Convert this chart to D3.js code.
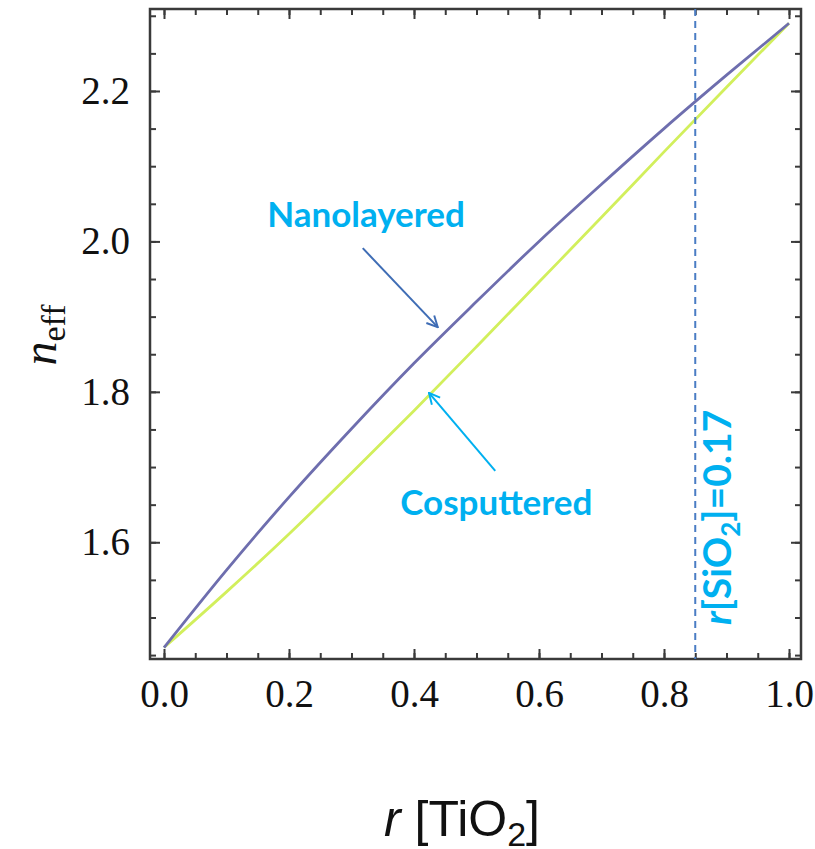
<!DOCTYPE html>
<html>
<head>
<meta charset="utf-8">
<script src="https://cdn.jsdelivr.net/npm/d3@7"></script>
<style>
  html, body { margin: 0; padding: 0; background: #fff; }
  svg { display: block; }
</style>
</head>
<body>
<svg id="chart" width="815" height="849"></svg>
<script>
// ---- data ----
const rTiO2 = [0.0, 0.1, 0.2, 0.3, 0.4, 0.5, 0.6, 0.7, 0.8, 0.9, 1.0];
const nanolayered = [1.460, 1.563, 1.660, 1.751, 1.838, 1.920, 2.000, 2.076, 2.150, 2.221, 2.290];
const cosputtered = [1.460, 1.534, 1.611, 1.692, 1.775, 1.860, 1.946, 2.032, 2.119, 2.205, 2.290];
const xMajorTicks = [0.0, 0.2, 0.4, 0.6, 0.8, 1.0];
const xMinorTicks = d3.range(0, 1.0001, 0.05);
const yMajorTicks = [1.6, 1.8, 2.0, 2.2];
const yMinorTicks = [1.45, 1.5, 1.55, 1.6, 1.65, 1.7, 1.75, 1.8, 1.85, 1.9, 1.95, 2.0, 2.05, 2.1, 2.15, 2.2, 2.25, 2.3];
const xDomain = [-0.0224, 1.0192];
const yDomain = [1.4448, 2.309];
const markerX = 0.85;          // r[SiO2] = 0.17 marker
const markerLabel = "0.17";

const svg = d3.select("#chart");
const margin = {left: 150, top: 9, right: 14, bottom: 190};
const W = 815, H = 849;
const iw = W - margin.left - margin.right;
const ih = H - margin.top - margin.bottom;

const x = d3.scaleLinear().domain(xDomain).range([0, iw]);
const y = d3.scaleLinear().domain(yDomain).range([ih, 0]);

const g = svg.append("g").attr("transform", `translate(${margin.left},${margin.top})`);

const frameColor = "#3a3a3a";
const fmt = d3.format(".1f");

svg.append("defs").append("clipPath").attr("id", "clip")
  .append("rect").attr("width", iw).attr("height", ih);

// ---- axes (ticks inward) ----
function styleAxis(sel) {
  sel.select(".domain").remove();
  sel.selectAll(".tick line").attr("stroke", frameColor).attr("stroke-width", 2);
  sel.selectAll(".tick text")
    .attr("fill", "#111")
    .style("font-family", "'Liberation Serif', 'Times New Roman', serif")
    .style("font-size", "39px");
}
g.append("g").attr("transform", `translate(0,${ih})`)
  .call(d3.axisBottom(x).tickValues(xMinorTicks).tickSize(-6).tickFormat(""))
  .call(styleAxis);
g.append("g").attr("transform", `translate(0,${ih})`)
  .call(d3.axisBottom(x).tickValues(xMajorTicks).tickSize(-10).tickPadding(20).tickFormat(fmt))
  .call(styleAxis);
g.append("g")
  .call(d3.axisTop(x).tickValues(xMinorTicks).tickSize(-6).tickFormat(""))
  .call(styleAxis);
g.append("g")
  .call(d3.axisTop(x).tickValues(xMajorTicks).tickSize(-10).tickFormat(""))
  .call(styleAxis);
g.append("g")
  .call(d3.axisLeft(y).tickValues(yMinorTicks).tickSize(-6).tickFormat(""))
  .call(styleAxis);
g.append("g")
  .call(d3.axisLeft(y).tickValues(yMajorTicks).tickSize(-10).tickPadding(20).tickFormat(fmt))
  .call(styleAxis);
g.append("g").attr("transform", `translate(${iw},0)`)
  .call(d3.axisRight(y).tickValues(yMinorTicks).tickSize(-6).tickFormat(""))
  .call(styleAxis);
g.append("g").attr("transform", `translate(${iw},0)`)
  .call(d3.axisRight(y).tickValues(yMajorTicks).tickSize(-10).tickFormat(""))
  .call(styleAxis);

g.append("rect").attr("width", iw).attr("height", ih)
  .attr("fill", "none").attr("stroke", frameColor).attr("stroke-width", 2.5);

// ---- lines ----
const line = d3.line()
  .x((d, i) => x(rTiO2[i]))
  .y(d => y(d))
  .curve(d3.curveMonotoneX);

g.append("path").datum(cosputtered)
  .attr("clip-path", "url(#clip)")
  .attr("d", line).attr("fill", "none")
  .attr("stroke", "#d2ef5c").attr("stroke-width", 2.8);
g.append("path").datum(nanolayered)
  .attr("clip-path", "url(#clip)")
  .attr("d", line).attr("fill", "none")
  .attr("stroke", "#6e6eae").attr("stroke-width", 2.8);

g.append("line")
  .attr("x1", x(markerX)).attr("x2", x(markerX))
  .attr("y1", 0).attr("y2", ih)
  .attr("stroke", "#4a7cc4").attr("stroke-width", 2)
  .attr("stroke-dasharray", "7,5");

// ---- annotations ----
const defs = svg.select("defs");
function addMarker(id, color) {
  defs.append("marker").attr("id", id)
    .attr("viewBox", "0 0 12 12").attr("refX", 11).attr("refY", 6)
    .attr("markerWidth", 13).attr("markerHeight", 13)
    .attr("markerUnits", "userSpaceOnUse").attr("orient", "auto")
    .append("path").attr("d", "M1,1 L11,6 L1,11")
    .attr("fill", "none").attr("stroke", color).attr("stroke-width", 1.8);
}
addMarker("arrNano", "#3f6db5");
addMarker("arrCo", "#00b0f0");

const annFont = "Lato, 'Open Sans', sans-serif";
const annColor = "#00b0f0";

g.append("text").attr("x", x(0.165)).attr("y", y(2.0193))
  .attr("fill", annColor).style("font-family", annFont)
  .style("font-weight", 700).style("font-size", "35px")
  .text("Nanolayered");
g.append("line")
  .attr("x1", x(0.318)).attr("y1", y(1.991))
  .attr("x2", x(0.438)).attr("y2", y(1.886))
  .attr("stroke", "#3f6db5").attr("stroke-width", 2)
  .attr("marker-end", "url(#arrNano)");

g.append("text").attr("x", x(0.378)).attr("y", y(1.6363))
  .attr("fill", annColor).style("font-family", annFont)
  .style("font-weight", 700).style("font-size", "35px")
  .text("Cosputtered");
g.append("line")
  .attr("x1", x(0.530)).attr("y1", y(1.6948))
  .attr("x2", x(0.424)).attr("y2", y(1.7985))
  .attr("stroke", annColor).attr("stroke-width", 2)
  .attr("marker-end", "url(#arrCo)");

const vt = g.append("text")
  .attr("transform", `translate(${x(0.907)},${y(1.49)}) rotate(-90)`)
  .attr("fill", annColor).style("font-family", annFont)
  .style("font-weight", 700).style("font-size", "39px");
vt.append("tspan").style("font-style", "italic").text("r");
vt.append("tspan").text("[SiO");
vt.append("tspan").attr("dy", 9).style("font-size", "26px").text("2");
vt.append("tspan").attr("dy", -9).text("]=" + markerLabel);

// ---- axis titles ----
const yt = svg.append("text")
  .attr("transform", `translate(56,335) rotate(-90)`)
  .attr("text-anchor", "middle")
  .attr("fill", "#111")
  .style("font-family", "'Liberation Serif', 'Times New Roman', serif")
  .style("font-size", "48px");
yt.append("tspan").style("font-style", "italic").text("n");
yt.append("tspan").attr("dy", 9).style("font-size", "34px").text("eff");

const xt = svg.append("text")
  .attr("x", 462).attr("y", 836)
  .attr("text-anchor", "middle")
  .attr("fill", "#111")
  .style("font-family", "'Liberation Sans', Arial, sans-serif")
  .style("font-size", "50px");
xt.append("tspan").style("font-style", "italic").text("r");
xt.append("tspan").text(" [TiO");
xt.append("tspan").attr("dy", 10).style("font-size", "34px").text("2");
xt.append("tspan").attr("dy", -10).text("]");
</script>
</body>
</html>
